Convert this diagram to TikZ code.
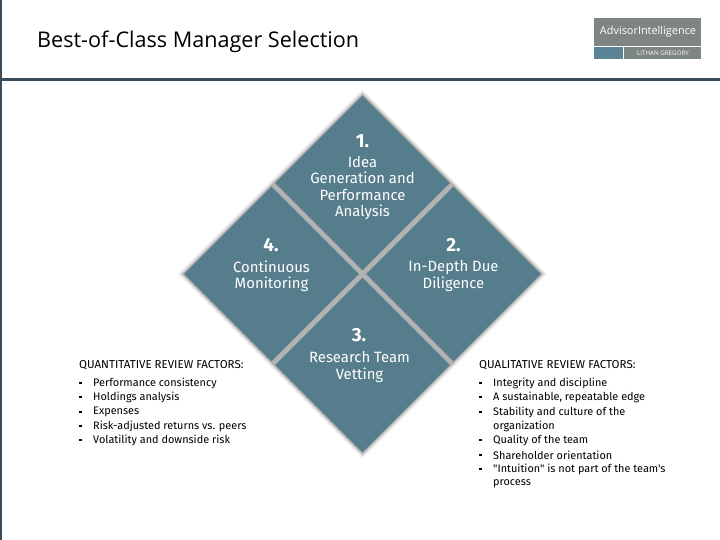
\documentclass[tikz,border=0pt]{standalone}
\usepackage{fontspec}
\setmainfont{Open Sans}
\newfontfamily\facetfont{Fira Sans}
\usetikzlibrary{shapes.geometric}
\definecolor{tealfill}{HTML}{567D8B}
\definecolor{rulecol}{HTML}{3B4D5A}
\definecolor{logogray}{HTML}{7E8685}
\definecolor{logoblue}{HTML}{5B8496}
\tikzset{
  facet/.style={diamond, fill=tealfill, aspect=1, inner sep=0pt, minimum width=175pt, minimum height=175pt},
  backdrop/.style={diamond, aspect=1, inner sep=0pt},
  facetnum/.style={text=white, font=\facetfont\fontsize{19}{19}\selectfont\bfseries},
  facettext/.style={text=white, align=center, font=\facetfont\fontsize{14.9}{16.2}\selectfont},
  listhead/.style={anchor=west, inner sep=0pt, font=\facetfont\fontsize{11.5}{12}\selectfont},
  listitem/.style={anchor=west, inner sep=0pt, font=\facetfont\fontsize{10.9}{12}\selectfont},
  listbullet/.style={rectangle, fill=black, inner sep=0pt, minimum size=2.5pt}
}
\begin{document}
\begin{tikzpicture}[x=1pt,y=-1pt]
  \useasboundingbox (0,0) rectangle (720,540);
  \fill[white] (0,0) rectangle (720,540);

  % Page rules
  \fill[rulecol] (0,0) rectangle (1.5,540);
  \fill[rulecol] (1.5,78) rectangle (720,81.5);

  % Title
  \node[anchor=west, inner sep=0pt, font=\fontsize{21.6}{24}\selectfont] (title) at (37,41.5) {Best-of-Class Manager Selection};

  % Logo
  \fill[logogray] (594,18) rectangle (701,46);
  \fill[logoblue] (594,47) rectangle (623,59);
  \fill[logogray] (624,47) rectangle (701,59);
  \node[text=white, inner sep=0pt, font=\fontsize{10.9}{11}\selectfont] (logoname) at (648,32) {AdvisorIntelligence};
  \node[text=white, inner sep=0pt, font=\fontsize{6.2}{7}\selectfont] (logosub) at (663,53) {LITHAN GREGORY};

  % Shadow and gaps behind the four facets
  \node[backdrop, fill=black!6, minimum width=369pt, minimum height=369pt] (halo) at (362.5,274) {};
  \node[backdrop, fill=black!16, minimum width=365pt, minimum height=365pt] (shade) at (362.5,274) {};
  \node[backdrop, fill=black!30, minimum width=361pt, minimum height=361pt] (backing) at (362.5,274) {};

  % Four facets
  \node[facet] (idea) at (362.5,183) {};
  \node[facet] (diligence) at (453.5,274) {};
  \node[facet] (vetting) at (362.5,365) {};
  \node[facet] (monitoring) at (271.5,274) {};

  % Facet labels
  \node[facetnum] (num1) at (362.5,141) {1.};
  \node[facettext] (text1) at (362.5,188) {Idea\\Generation and\\Performance\\Analysis};
  \node[facetnum] (num2) at (453.5,245) {2.};
  \node[facettext] (text2) at (453.5,276) {In-Depth Due\\Diligence};
  \node[facetnum] (num3) at (359,335) {3.};
  \node[facettext] (text3) at (359.5,367) {Research Team\\Vetting};
  \node[facetnum] (num4) at (271,245) {4.};
  \node[facettext] (text4) at (271.5,276) {Continuous\\Monitoring};

  % Left list
  \node[listhead] (quanthead) at (79,365.5) {QUANTITATIVE REVIEW FACTORS:};
  \foreach \y/\name in {383/Performance consistency, 397/Holdings analysis, 412/Expenses, 426/Risk-adjusted returns vs. peers, 440/Volatility and downside risk} {
    \node[listbullet] at (80.5,\y) {};
    \node[listitem] at (93,\y) {\name};
  }

  % Right list
  \node[listhead] (qualhead) at (479,365.5) {QUALITATIVE REVIEW FACTORS:};
  \foreach \y/\name in {383/Integrity and discipline, 397/{A sustainable, repeatable edge}, 412/Stability and culture of the, 440/Quality of the team, 455/Shareholder orientation, 469/"Intuition" is not part of the team's} {
    \node[listbullet] at (480.5,\y) {};
    \node[listitem] at (493,\y) {\name};
  }
  \node[listitem] (orgline) at (493,426) {organization};
  \node[listitem] (procline) at (493,484) {process};
\end{tikzpicture}
\end{document}
